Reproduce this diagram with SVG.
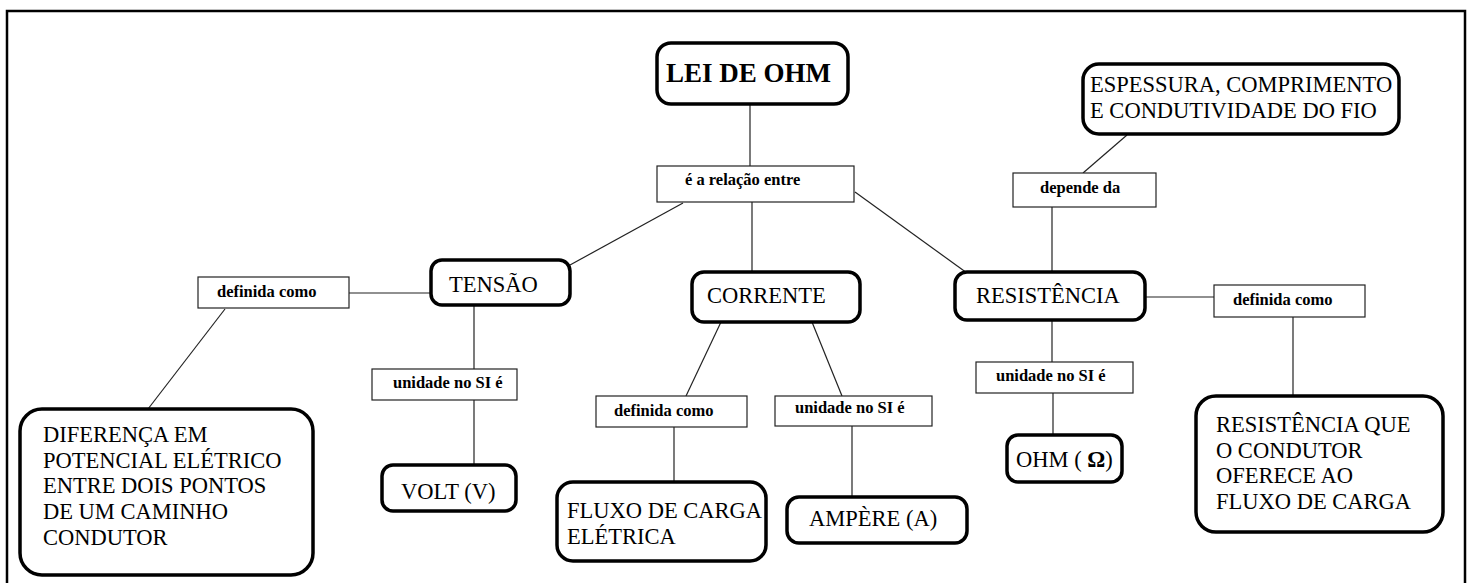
<svg xmlns="http://www.w3.org/2000/svg" width="1472" height="583" viewBox="0 0 1472 583">
<style>
.frame{fill:none;stroke:#000;stroke-width:2.5}
.node{fill:#fff;stroke:#000;stroke-width:3.5}
.lab{fill:#fff;stroke:#222;stroke-width:1.2}
.con line{stroke:#222;stroke-width:1.2}
.t{font-size:22.5px;fill:#000}
.l{font-size:16.5px;font-weight:bold;fill:#000}
.h{font-size:27px;font-weight:bold;fill:#000}
</style>
<rect width="1472" height="583" fill="#fff"/>
<rect class="frame" x="7" y="11" width="1458" height="620"/>
<g class="con" id="connectors">
<line x1="750" y1="104" x2="750" y2="166"/>
<line x1="683" y1="203" x2="570" y2="265"/>
<line x1="752" y1="202" x2="752" y2="272"/>
<line x1="855" y1="192" x2="967" y2="273"/>
<line x1="349" y1="293" x2="431" y2="293"/>
<line x1="225" y1="309" x2="148" y2="409"/>
<line x1="474" y1="305" x2="474" y2="369"/>
<line x1="474" y1="400" x2="474" y2="465"/>
<line x1="721" y1="322" x2="686" y2="396"/>
<line x1="812" y1="322" x2="842" y2="396"/>
<line x1="674" y1="427" x2="674" y2="482"/>
<line x1="852" y1="426" x2="852" y2="497"/>
<line x1="1127" y1="135" x2="1083" y2="173"/>
<line x1="1052" y1="207" x2="1052" y2="272"/>
<line x1="1145" y1="297" x2="1214" y2="297"/>
<line x1="1293" y1="317" x2="1293" y2="396"/>
<line x1="1052" y1="320" x2="1052" y2="362"/>
<line x1="1053" y1="393" x2="1053" y2="435"/>
</g>
<g id="lei">
<rect class="node" x="657" y="43" width="191" height="61" rx="14"/>
<text class="h" font-family="Liberation Serif" x="666" y="82">LEI DE OHM</text>
</g>
<g id="relacao">
<rect class="lab" x="657" y="166" width="197" height="36"/>
<text class="l" font-family="Liberation Serif" x="685" y="185">é a relação entre</text>
</g>
<g id="tensao">
<rect class="node" x="431" y="260" width="139" height="45" rx="11"/>
<text class="t" font-family="Liberation Serif" x="449" y="292">TENSÃO</text>
</g>
<g id="def1">
<rect class="lab" x="198" y="277" width="151" height="31"/>
<text class="l" font-family="Liberation Serif" x="217" y="297">definida como</text>
</g>
<g id="diferenca">
<rect class="node" x="20" y="409" width="293" height="166" rx="22"/>
<text class="t" font-family="Liberation Serif" x="43" y="442">DIFERENÇA EM</text>
<text class="t" font-family="Liberation Serif" x="43" y="468">POTENCIAL ELÉTRICO</text>
<text class="t" font-family="Liberation Serif" x="43" y="493">ENTRE DOIS PONTOS</text>
<text class="t" font-family="Liberation Serif" x="43" y="519">DE UM CAMINHO</text>
<text class="t" font-family="Liberation Serif" x="43" y="545">CONDUTOR</text>
</g>
<g id="uni1">
<rect class="lab" x="372" y="369" width="145" height="31"/>
<text class="l" font-family="Liberation Serif" x="393" y="388">unidade no SI é</text>
</g>
<g id="volt">
<rect class="node" x="382" y="465" width="134" height="46" rx="11"/>
<text class="t" font-family="Liberation Serif" x="401" y="499">VOLT (V)</text>
</g>
<g id="corrente">
<rect class="node" x="692" y="272" width="168" height="50" rx="12"/>
<text class="t" font-family="Liberation Serif" x="707" y="303">CORRENTE</text>
</g>
<g id="def2">
<rect class="lab" x="596" y="396" width="151" height="31"/>
<text class="l" font-family="Liberation Serif" x="614" y="416">definida como</text>
</g>
<g id="uni2">
<rect class="lab" x="775" y="396" width="157" height="30"/>
<text class="l" font-family="Liberation Serif" x="795" y="413">unidade no SI é</text>
</g>
<g id="fluxo">
<rect class="node" x="557" y="482" width="209" height="79" rx="16"/>
<text class="t" font-family="Liberation Serif" x="567" y="518">FLUXO DE CARGA</text>
<text class="t" font-family="Liberation Serif" x="567" y="544">ELÉTRICA</text>
</g>
<g id="ampere">
<rect class="node" x="787" y="497" width="180" height="46" rx="12"/>
<text class="t" font-family="Liberation Serif" x="809" y="526">AMPÈRE (A)</text>
</g>
<g id="resistencia">
<rect class="node" x="955" y="272" width="190" height="48" rx="12"/>
<text class="t" font-family="Liberation Serif" x="976" y="303">RESISTÊNCIA</text>
</g>
<g id="depende">
<rect class="lab" x="1013" y="173" width="143" height="34"/>
<text class="l" font-family="Liberation Serif" x="1040" y="193">depende da</text>
</g>
<g id="espessura">
<rect class="node" x="1083" y="64" width="316" height="70" rx="16"/>
<text class="t" font-family="Liberation Serif" x="1090" y="92">ESPESSURA, COMPRIMENTO</text>
<text class="t" font-family="Liberation Serif" x="1090" y="118">E CONDUTIVIDADE DO FIO</text>
</g>
<g id="def3">
<rect class="lab" x="1214" y="285" width="151" height="32"/>
<text class="l" font-family="Liberation Serif" x="1233" y="305">definida como</text>
</g>
<g id="resque">
<rect class="node" x="1196" y="396" width="247" height="136" rx="20"/>
<text class="t" font-family="Liberation Serif" x="1216" y="432">RESISTÊNCIA QUE</text>
<text class="t" font-family="Liberation Serif" x="1216" y="458">O CONDUTOR</text>
<text class="t" font-family="Liberation Serif" x="1216" y="483">OFERECE AO</text>
<text class="t" font-family="Liberation Serif" x="1216" y="509">FLUXO DE CARGA</text>
</g>
<g id="uni3">
<rect class="lab" x="976" y="362" width="157" height="31"/>
<text class="l" font-family="Liberation Serif" x="996" y="381">unidade no SI é</text>
</g>
<g id="ohm">
<rect class="node" x="1007" y="435" width="115" height="47" rx="11"/>
<text class="t" font-family="Liberation Serif" x="1016" y="467">OHM ( <tspan font-weight="bold">Ω</tspan>)</text>
</g>
</svg>
